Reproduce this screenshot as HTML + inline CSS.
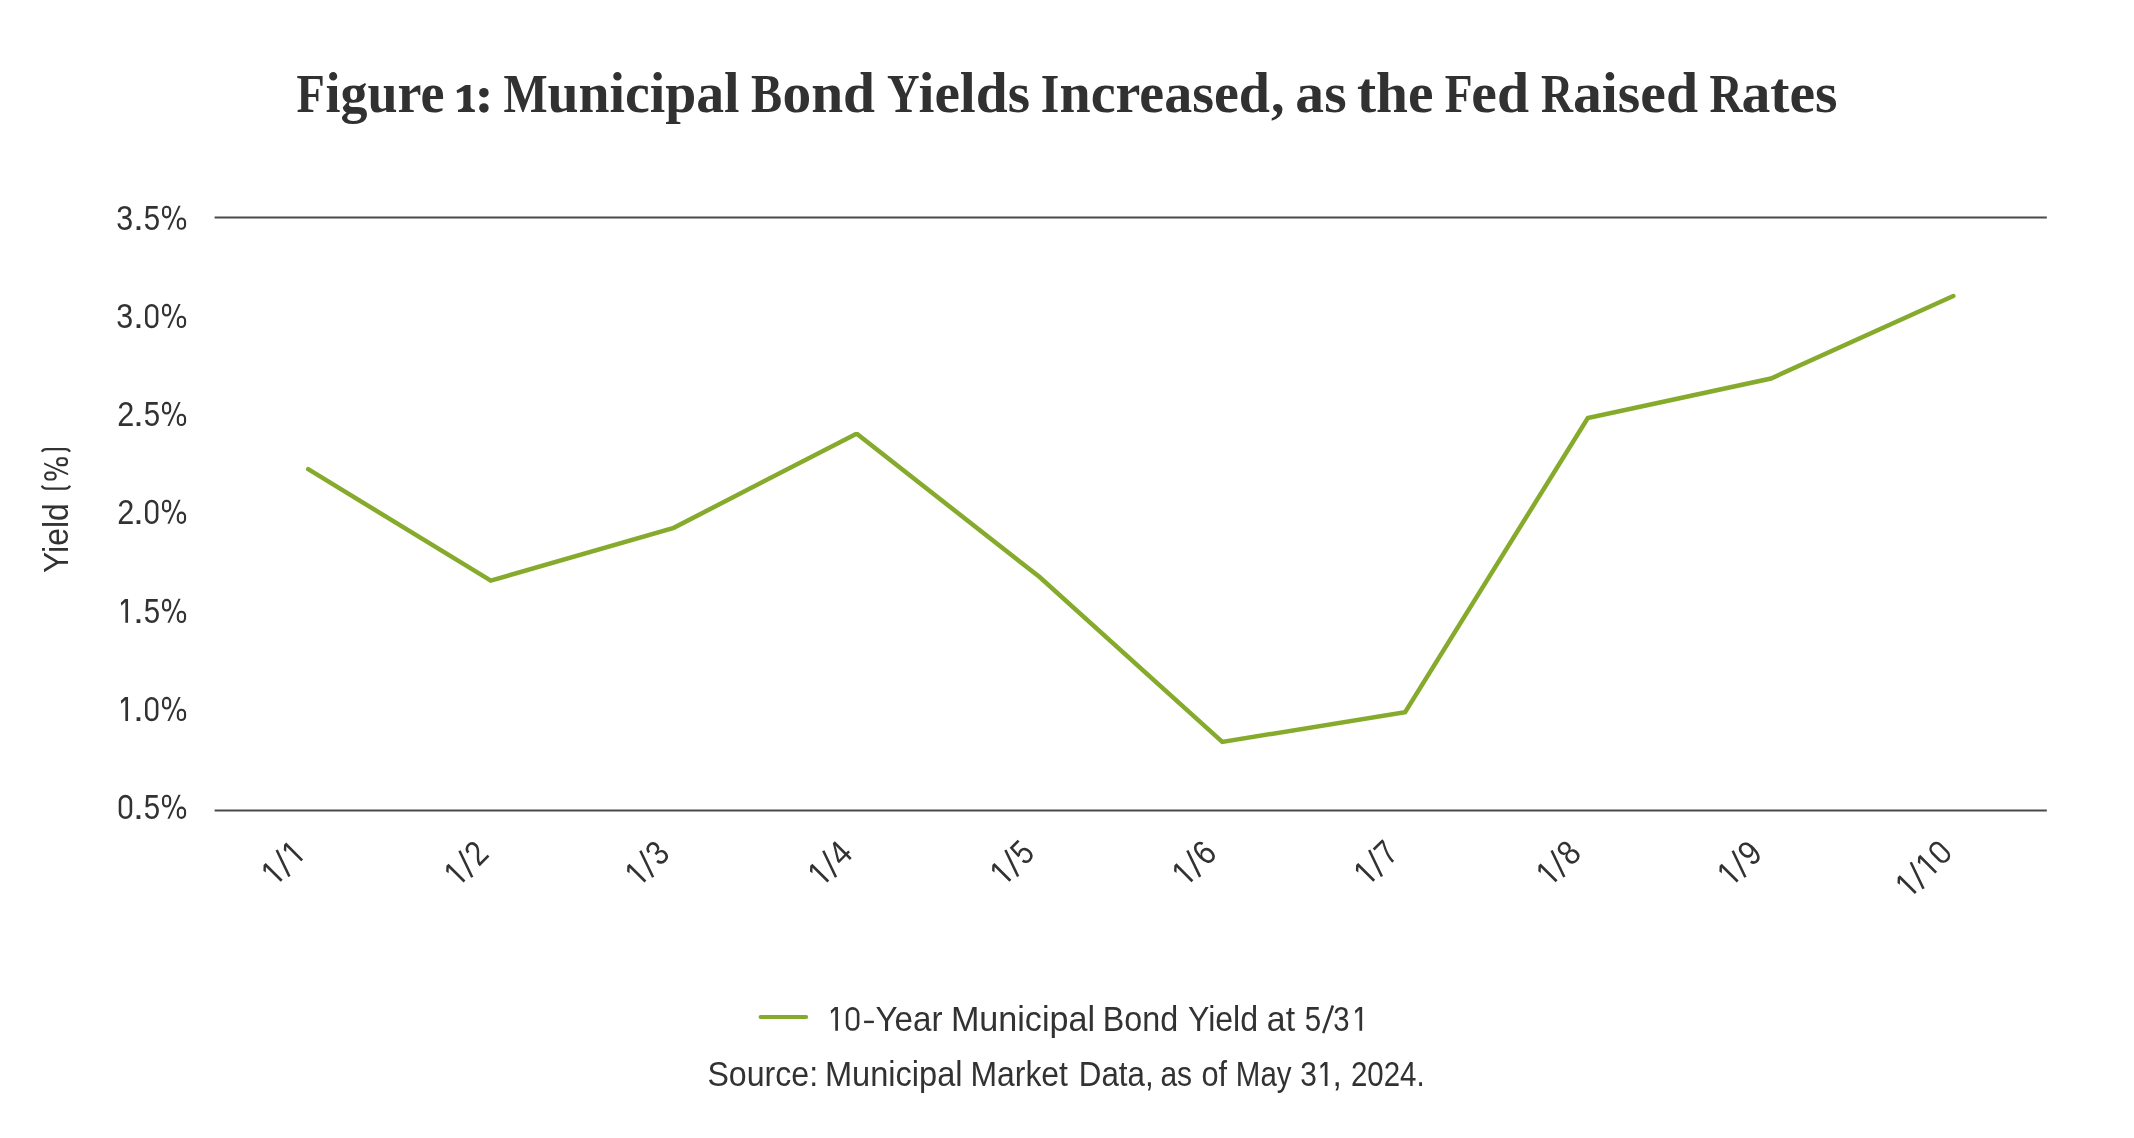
<!DOCTYPE html>
<html>
<head>
<meta charset="utf-8">
<title>Figure 1</title>
<style>
html,body{margin:0;padding:0;background:#fff;}
body{width:2134px;height:1138px;overflow:hidden;}
svg{display:block;will-change:transform;}
text{font-family:"Liberation Sans",sans-serif;fill:#323232;}
.title{font-family:"Liberation Serif",serif;font-weight:bold;fill:#313131;}
</style>
</head>
<body>
<svg width="2134" height="1138" viewBox="0 0 2134 1138">
<rect x="0" y="0" width="2134" height="1138" fill="#ffffff"/>
<!-- gridlines -->
<line x1="214.6" y1="217.5" x2="2046.8" y2="217.5" stroke="#4a4a4c" stroke-width="1.8"/>
<line x1="214.6" y1="810.5" x2="2046.8" y2="810.5" stroke="#4a4a4c" stroke-width="1.8"/>
<!-- horizontal text (title words, y tick labels, legend, source) -->
<text class="title" x="296.41" y="112.00" font-size="55.00" textLength="28.28" lengthAdjust="spacingAndGlyphs">F</text>
<text class="title" x="325.46" y="112.00" font-size="56.50" textLength="119.06" lengthAdjust="spacingAndGlyphs">igure</text>
<text class="title" x="503.45" y="112.00" font-size="55.00" textLength="44.13" lengthAdjust="spacingAndGlyphs">M</text>
<text class="title" x="547.49" y="112.00" font-size="56.50" textLength="192.02" lengthAdjust="spacingAndGlyphs">unicipal</text>
<text class="title" x="750.95" y="112.00" font-size="55.00" textLength="31.11" lengthAdjust="spacingAndGlyphs">B</text>
<text class="title" x="782.41" y="112.00" font-size="56.50" textLength="92.64" lengthAdjust="spacingAndGlyphs">ond</text>
<text class="title" x="886.97" y="112.00" font-size="55.00" textLength="32.56" lengthAdjust="spacingAndGlyphs">Y</text>
<text class="title" x="918.46" y="112.00" font-size="56.50" textLength="111.58" lengthAdjust="spacingAndGlyphs">ields</text>
<text class="title" x="1040.65" y="112.00" font-size="55.00" textLength="18.51" lengthAdjust="spacingAndGlyphs">I</text>
<text class="title" x="1059.49" y="112.00" font-size="56.50" textLength="210.51" lengthAdjust="spacingAndGlyphs">ncreased</text>
<text class="title" x="1270.89" y="112.00" font-size="55.00" textLength="13.52" lengthAdjust="spacingAndGlyphs">,</text>
<text class="title" x="1295.37" y="112.00" font-size="56.50" textLength="51.20" lengthAdjust="spacingAndGlyphs">as</text>
<text class="title" x="1356.97" y="112.00" font-size="56.50" textLength="76.57" lengthAdjust="spacingAndGlyphs">the</text>
<text class="title" x="1444.85" y="112.00" font-size="55.00" textLength="27.80" lengthAdjust="spacingAndGlyphs">F</text>
<text class="title" x="1471.37" y="112.00" font-size="56.50" textLength="57.65" lengthAdjust="spacingAndGlyphs">ed</text>
<text class="title" x="1541.00" y="112.00" font-size="55.00" textLength="32.02" lengthAdjust="spacingAndGlyphs">R</text>
<text class="title" x="1572.95" y="112.00" font-size="56.50" textLength="125.05" lengthAdjust="spacingAndGlyphs">aised</text>
<text class="title" x="1709.47" y="112.00" font-size="55.00" textLength="33.03" lengthAdjust="spacingAndGlyphs">R</text>
<text class="title" x="1741.44" y="112.00" font-size="56.50" textLength="96.14" lengthAdjust="spacingAndGlyphs">ates</text>
<text x="116.31" y="229.70" font-size="34.60" textLength="16.93" lengthAdjust="spacingAndGlyphs">3</text>
<text x="132.90" y="229.70" font-size="34.60" textLength="10.94" lengthAdjust="spacingAndGlyphs">.</text>
<text x="143.81" y="229.70" font-size="34.60" textLength="16.37" lengthAdjust="spacingAndGlyphs">5</text>
<text x="116.31" y="327.90" font-size="34.60" textLength="16.93" lengthAdjust="spacingAndGlyphs">3</text>
<text x="132.90" y="327.90" font-size="34.60" textLength="10.94" lengthAdjust="spacingAndGlyphs">.</text>
<text x="117.18" y="425.90" font-size="34.60" textLength="17.01" lengthAdjust="spacingAndGlyphs">2</text>
<text x="132.90" y="425.90" font-size="34.60" textLength="10.94" lengthAdjust="spacingAndGlyphs">.</text>
<text x="143.81" y="425.90" font-size="34.60" textLength="16.37" lengthAdjust="spacingAndGlyphs">5</text>
<text x="117.18" y="523.75" font-size="34.60" textLength="17.01" lengthAdjust="spacingAndGlyphs">2</text>
<text x="132.90" y="523.75" font-size="34.60" textLength="10.94" lengthAdjust="spacingAndGlyphs">.</text>
<text x="132.90" y="622.85" font-size="34.60" textLength="10.94" lengthAdjust="spacingAndGlyphs">.</text>
<text x="143.81" y="622.85" font-size="34.60" textLength="16.37" lengthAdjust="spacingAndGlyphs">5</text>
<text x="132.90" y="720.90" font-size="34.60" textLength="10.94" lengthAdjust="spacingAndGlyphs">.</text>
<text x="132.90" y="818.80" font-size="34.60" textLength="10.94" lengthAdjust="spacingAndGlyphs">.</text>
<text x="143.81" y="818.80" font-size="34.60" textLength="16.37" lengthAdjust="spacingAndGlyphs">5</text>
<text x="875.47" y="1030.80" font-size="34.60" textLength="67.04" lengthAdjust="spacingAndGlyphs">Year</text>
<text x="950.92" y="1030.80" font-size="34.60" textLength="144.15" lengthAdjust="spacingAndGlyphs">Municipal</text>
<text x="1102.82" y="1030.80" font-size="34.60" textLength="75.31" lengthAdjust="spacingAndGlyphs">Bond</text>
<text x="1187.98" y="1030.80" font-size="34.60" textLength="70.11" lengthAdjust="spacingAndGlyphs">Yield</text>
<text x="1266.87" y="1030.80" font-size="34.60" textLength="28.19" lengthAdjust="spacingAndGlyphs">at</text>
<text x="1304.80" y="1030.80" font-size="34.60" textLength="16.39" lengthAdjust="spacingAndGlyphs">5</text>
<text x="1333.36" y="1030.80" font-size="34.60" textLength="16.28" lengthAdjust="spacingAndGlyphs">3</text>
<text x="707.44" y="1085.90" font-size="34.60" textLength="110.68" lengthAdjust="spacingAndGlyphs">Source:</text>
<text x="824.92" y="1085.90" font-size="34.60" textLength="137.64" lengthAdjust="spacingAndGlyphs">Municipal</text>
<text x="970.45" y="1085.90" font-size="34.60" textLength="97.56" lengthAdjust="spacingAndGlyphs">Market</text>
<text x="1078.78" y="1085.90" font-size="34.60" textLength="74.94" lengthAdjust="spacingAndGlyphs">Data,</text>
<text x="1160.41" y="1085.90" font-size="34.60" textLength="31.70" lengthAdjust="spacingAndGlyphs">as</text>
<text x="1201.39" y="1085.90" font-size="34.60" textLength="25.63" lengthAdjust="spacingAndGlyphs">of</text>
<text x="1235.87" y="1085.90" font-size="34.60" textLength="55.67" lengthAdjust="spacingAndGlyphs">May</text>
<text x="1300.17" y="1085.90" font-size="34.60" textLength="16.60" lengthAdjust="spacingAndGlyphs">3</text>
<text x="1332.44" y="1085.90" font-size="34.60" textLength="9.32" lengthAdjust="spacingAndGlyphs">,</text>
<text x="1350.95" y="1085.90" font-size="34.60" textLength="73.66" lengthAdjust="spacingAndGlyphs">2024.</text>
<!-- DIN-style vector glyphs: 1 and / -->
<path d="M163.05,210.25 A3.55,3.55 0 0 1 170.15,210.25 L170.15,213.80 A3.55,3.55 0 0 1 163.05,213.80 Z" fill="none" stroke="#323232" stroke-width="2.1"/>
<path d="M177.85,222.15 A3.60,3.60 0 0 1 185.05,222.15 L185.05,225.20 A3.60,3.60 0 0 1 177.85,225.20 Z" fill="none" stroke="#323232" stroke-width="2.1"/>
<path d="M167.40,229.70 L169.50,229.70 L180.60,205.70 L178.50,205.70 Z" fill="#323232"/>
<path d="M146.28,310.65 A5.42,5.42 0 0 1 157.12,310.65 L157.12,321.45 A5.42,5.42 0 0 1 146.28,321.45 Z" fill="none" stroke="#323232" stroke-width="2.55"/>
<path d="M163.05,308.45 A3.55,3.55 0 0 1 170.15,308.45 L170.15,312.00 A3.55,3.55 0 0 1 163.05,312.00 Z" fill="none" stroke="#323232" stroke-width="2.1"/>
<path d="M177.85,320.35 A3.60,3.60 0 0 1 185.05,320.35 L185.05,323.40 A3.60,3.60 0 0 1 177.85,323.40 Z" fill="none" stroke="#323232" stroke-width="2.1"/>
<path d="M167.40,327.90 L169.50,327.90 L180.60,303.90 L178.50,303.90 Z" fill="#323232"/>
<path d="M163.05,406.45 A3.55,3.55 0 0 1 170.15,406.45 L170.15,410.00 A3.55,3.55 0 0 1 163.05,410.00 Z" fill="none" stroke="#323232" stroke-width="2.1"/>
<path d="M177.85,418.35 A3.60,3.60 0 0 1 185.05,418.35 L185.05,421.40 A3.60,3.60 0 0 1 177.85,421.40 Z" fill="none" stroke="#323232" stroke-width="2.1"/>
<path d="M167.40,425.90 L169.50,425.90 L180.60,401.90 L178.50,401.90 Z" fill="#323232"/>
<path d="M146.28,506.50 A5.42,5.42 0 0 1 157.12,506.50 L157.12,517.30 A5.42,5.42 0 0 1 146.28,517.30 Z" fill="none" stroke="#323232" stroke-width="2.55"/>
<path d="M163.05,504.30 A3.55,3.55 0 0 1 170.15,504.30 L170.15,507.85 A3.55,3.55 0 0 1 163.05,507.85 Z" fill="none" stroke="#323232" stroke-width="2.1"/>
<path d="M177.85,516.20 A3.60,3.60 0 0 1 185.05,516.20 L185.05,519.25 A3.60,3.60 0 0 1 177.85,519.25 Z" fill="none" stroke="#323232" stroke-width="2.1"/>
<path d="M167.40,523.75 L169.50,523.75 L180.60,499.75 L178.50,499.75 Z" fill="#323232"/>
<path d="M128.05,622.85 L128.05,598.95 L125.00,598.95 L120.85,602.80 L121.30,605.75 L125.35,601.90 L125.35,622.85 Z" fill="#323232"/>
<path d="M163.05,603.40 A3.55,3.55 0 0 1 170.15,603.40 L170.15,606.95 A3.55,3.55 0 0 1 163.05,606.95 Z" fill="none" stroke="#323232" stroke-width="2.1"/>
<path d="M177.85,615.30 A3.60,3.60 0 0 1 185.05,615.30 L185.05,618.35 A3.60,3.60 0 0 1 177.85,618.35 Z" fill="none" stroke="#323232" stroke-width="2.1"/>
<path d="M167.40,622.85 L169.50,622.85 L180.60,598.85 L178.50,598.85 Z" fill="#323232"/>
<path d="M128.05,720.90 L128.05,697.00 L125.00,697.00 L120.85,700.85 L121.30,703.80 L125.35,699.95 L125.35,720.90 Z" fill="#323232"/>
<path d="M146.28,703.65 A5.42,5.42 0 0 1 157.12,703.65 L157.12,714.45 A5.42,5.42 0 0 1 146.28,714.45 Z" fill="none" stroke="#323232" stroke-width="2.55"/>
<path d="M163.05,701.45 A3.55,3.55 0 0 1 170.15,701.45 L170.15,705.00 A3.55,3.55 0 0 1 163.05,705.00 Z" fill="none" stroke="#323232" stroke-width="2.1"/>
<path d="M177.85,713.35 A3.60,3.60 0 0 1 185.05,713.35 L185.05,716.40 A3.60,3.60 0 0 1 177.85,716.40 Z" fill="none" stroke="#323232" stroke-width="2.1"/>
<path d="M167.40,720.90 L169.50,720.90 L180.60,696.90 L178.50,696.90 Z" fill="#323232"/>
<path d="M119.98,801.60 A5.47,5.47 0 0 1 130.92,801.60 L130.92,812.30 A5.47,5.47 0 0 1 119.98,812.30 Z" fill="none" stroke="#323232" stroke-width="2.55"/>
<path d="M163.05,799.35 A3.55,3.55 0 0 1 170.15,799.35 L170.15,802.90 A3.55,3.55 0 0 1 163.05,802.90 Z" fill="none" stroke="#323232" stroke-width="2.1"/>
<path d="M177.85,811.25 A3.60,3.60 0 0 1 185.05,811.25 L185.05,814.30 A3.60,3.60 0 0 1 177.85,814.30 Z" fill="none" stroke="#323232" stroke-width="2.1"/>
<path d="M167.40,818.80 L169.50,818.80 L180.60,794.80 L178.50,794.80 Z" fill="#323232"/>
<path d="M837.95,1030.80 L837.95,1006.90 L834.90,1006.90 L830.75,1010.75 L831.20,1013.70 L835.25,1009.85 L835.25,1030.80 Z" fill="#323232"/>
<path d="M847.07,1013.65 A5.53,5.53 0 0 1 858.12,1013.65 L858.12,1024.25 A5.53,5.53 0 0 1 847.07,1024.25 Z" fill="none" stroke="#323232" stroke-width="2.55"/>
<line x1="864.1" y1="1021.9" x2="873.9" y2="1021.9" stroke="#323232" stroke-width="2.4"/>
<path d="M1323.20,1033.20 L1332.90,1005.50" fill="none" stroke="#323232" stroke-width="2.55" stroke-linecap="butt"/>
<path d="M1362.15,1030.80 L1362.15,1006.90 L1359.10,1006.90 L1354.95,1010.75 L1355.40,1013.70 L1359.45,1009.85 L1359.45,1030.80 Z" fill="#323232"/>
<path d="M1327.45,1085.90 L1327.45,1062.00 L1324.40,1062.00 L1320.25,1065.85 L1320.70,1068.80 L1324.75,1064.95 L1324.75,1085.90 Z" fill="#323232"/>
<!-- old-style numeral 1 and colon in title -->
<path fill="#313131" d="M465.4,85.1 L470.45,85.1 L470.45,105.8 Q470.6,109.3 474.9,109.8 L474.9,111.9 L458,111.9 L458,109.8 Q463.2,109.3 463.35,105.8 L463.35,90.9 L457.3,93.2 L456.5,90.4 Z"/>
<circle cx="483.9" cy="92.7" r="4.75" fill="#313131"/>
<circle cx="483.9" cy="107.95" r="4.75" fill="#313131"/>
<!-- y axis title -->
<g transform="translate(68.1,572) rotate(-90)">
<text x="-1.00" y="0" font-size="34.6" textLength="69.80" lengthAdjust="spacingAndGlyphs">Yield</text>
<path d="M92.54,-19.60 A3.40,3.40 0 0 1 99.34,-19.60 L99.34,-15.75 A3.40,3.40 0 0 1 92.54,-15.75 Z" fill="none" stroke="#323232" stroke-width="2.1"/>
<path d="M106.86,-7.70 A3.45,3.45 0 0 1 113.75,-7.70 L113.75,-4.35 A3.45,3.45 0 0 1 106.86,-4.35 Z" fill="none" stroke="#323232" stroke-width="2.1"/>
<path d="M96.72,0.00 L98.75,0.00 L109.48,-24.00 L107.45,-24.00 Z" fill="#323232"/>
<path d="M86.4,-26.3 Q83.3,-25.0 83.3,-21.6 L83.3,-2.8 Q83.3,0.6 86.4,1.9" fill="none" stroke="#323232" stroke-width="2.3" stroke-linecap="butt"/>
<path d="M120.2,-26.3 Q122.9,-25.0 122.9,-21.6 L122.9,-2.8 Q122.9,0.6 120.2,1.9" fill="none" stroke="#323232" stroke-width="2.3" stroke-linecap="butt"/>
</g>
<!-- data line -->
<polyline fill="none" stroke="#85AA2C" stroke-width="4.5" stroke-linecap="round" stroke-linejoin="miter" points="308.2,469.2 490.8,580.6 673.7,527.8 855.5,434.2 857.4,434.3 1039.6,577.05 1222.3,741.95 1405.1,712.1 1587.8,418.1 1771,378.5 1953.3,296.0"/>
<!-- x tick labels -->
<g transform="translate(281.70,880.80) rotate(-45)">
<path d="M1.35,0.00 L1.35,-23.90 L-1.70,-23.90 L-5.85,-20.05 L-5.40,-17.10 L-1.35,-20.95 L-1.35,0.00 Z" fill="#323232"/>
<path d="M8.50,2.40 L18.20,-25.30" fill="none" stroke="#323232" stroke-width="2.55" stroke-linecap="butt"/>
<path d="M30.25,0.00 L30.25,-23.90 L27.20,-23.90 L23.05,-20.05 L23.50,-17.10 L27.55,-20.95 L27.55,0.00 Z" fill="#323232"/>
</g>
<g transform="translate(464.50,881.50) rotate(-45)">
<path d="M1.35,0.00 L1.35,-23.90 L-1.70,-23.90 L-5.85,-20.05 L-5.40,-17.10 L-1.35,-20.95 L-1.35,0.00 Z" fill="#323232"/>
<path d="M8.50,2.40 L18.20,-25.30" fill="none" stroke="#323232" stroke-width="2.55" stroke-linecap="butt"/>
<text x="20.10" y="0" font-size="34.6" textLength="16.60" lengthAdjust="spacingAndGlyphs">2</text>
</g>
<g transform="translate(645.40,881.50) rotate(-45)">
<path d="M1.35,0.00 L1.35,-23.90 L-1.70,-23.90 L-5.85,-20.05 L-5.40,-17.10 L-1.35,-20.95 L-1.35,0.00 Z" fill="#323232"/>
<path d="M8.50,2.40 L18.20,-25.30" fill="none" stroke="#323232" stroke-width="2.55" stroke-linecap="butt"/>
<text x="20.48" y="0" font-size="34.6" textLength="16.42" lengthAdjust="spacingAndGlyphs">3</text>
</g>
<g transform="translate(828.30,881.50) rotate(-45)">
<path d="M1.35,0.00 L1.35,-23.90 L-1.70,-23.90 L-5.85,-20.05 L-5.40,-17.10 L-1.35,-20.95 L-1.35,0.00 Z" fill="#323232"/>
<path d="M8.50,2.40 L18.20,-25.30" fill="none" stroke="#323232" stroke-width="2.55" stroke-linecap="butt"/>
<text x="19.89" y="0" font-size="34.6" textLength="17.22" lengthAdjust="spacingAndGlyphs">4</text>
</g>
<g transform="translate(1010.40,880.80) rotate(-45)">
<path d="M1.35,0.00 L1.35,-23.90 L-1.70,-23.90 L-5.85,-20.05 L-5.40,-17.10 L-1.35,-20.95 L-1.35,0.00 Z" fill="#323232"/>
<path d="M8.50,2.40 L18.20,-25.30" fill="none" stroke="#323232" stroke-width="2.55" stroke-linecap="butt"/>
<text x="20.43" y="0" font-size="34.6" textLength="16.19" lengthAdjust="spacingAndGlyphs">5</text>
</g>
<g transform="translate(1192.40,881.20) rotate(-45)">
<path d="M1.35,0.00 L1.35,-23.90 L-1.70,-23.90 L-5.85,-20.05 L-5.40,-17.10 L-1.35,-20.95 L-1.35,0.00 Z" fill="#323232"/>
<path d="M8.50,2.40 L18.20,-25.30" fill="none" stroke="#323232" stroke-width="2.55" stroke-linecap="butt"/>
<text x="20.06" y="0" font-size="34.6" textLength="16.87" lengthAdjust="spacingAndGlyphs">6</text>
</g>
<g transform="translate(1374.20,880.80) rotate(-45)">
<path d="M1.35,0.00 L1.35,-23.90 L-1.70,-23.90 L-5.85,-20.05 L-5.40,-17.10 L-1.35,-20.95 L-1.35,0.00 Z" fill="#323232"/>
<path d="M8.50,2.40 L18.20,-25.30" fill="none" stroke="#323232" stroke-width="2.55" stroke-linecap="butt"/>
<text x="20.09" y="0" font-size="34.6" textLength="16.39" lengthAdjust="spacingAndGlyphs">7</text>
</g>
<g transform="translate(1556.60,881.30) rotate(-45)">
<path d="M1.35,0.00 L1.35,-23.90 L-1.70,-23.90 L-5.85,-20.05 L-5.40,-17.10 L-1.35,-20.95 L-1.35,0.00 Z" fill="#323232"/>
<path d="M8.50,2.40 L18.20,-25.30" fill="none" stroke="#323232" stroke-width="2.55" stroke-linecap="butt"/>
<text x="20.28" y="0" font-size="34.6" textLength="16.83" lengthAdjust="spacingAndGlyphs">8</text>
</g>
<g transform="translate(1737.70,881.50) rotate(-45)">
<path d="M1.35,0.00 L1.35,-23.90 L-1.70,-23.90 L-5.85,-20.05 L-5.40,-17.10 L-1.35,-20.95 L-1.35,0.00 Z" fill="#323232"/>
<path d="M8.50,2.40 L18.20,-25.30" fill="none" stroke="#323232" stroke-width="2.55" stroke-linecap="butt"/>
<text x="20.18" y="0" font-size="34.6" textLength="16.86" lengthAdjust="spacingAndGlyphs">9</text>
</g>
<g transform="translate(1915.80,893.00) rotate(-45)">
<path d="M1.35,0.00 L1.35,-23.90 L-1.70,-23.90 L-5.85,-20.05 L-5.40,-17.10 L-1.35,-20.95 L-1.35,0.00 Z" fill="#323232"/>
<path d="M8.50,2.40 L18.20,-25.30" fill="none" stroke="#323232" stroke-width="2.55" stroke-linecap="butt"/>
<path d="M30.15,0.00 L30.15,-23.90 L27.10,-23.90 L22.95,-20.05 L23.40,-17.10 L27.45,-20.95 L27.45,0.00 Z" fill="#323232"/>
<path d="M39.98,-16.95 A5.73,5.73 0 0 1 51.43,-16.95 L51.43,-6.75 A5.73,5.73 0 0 1 39.98,-6.75 Z" fill="none" stroke="#323232" stroke-width="2.55"/>
</g>
<!-- legend swatch -->
<line x1="760.6" y1="1017" x2="806.1" y2="1017" stroke="#85AA2C" stroke-width="4.1" stroke-linecap="round"/>
</svg>
</body>
</html>
